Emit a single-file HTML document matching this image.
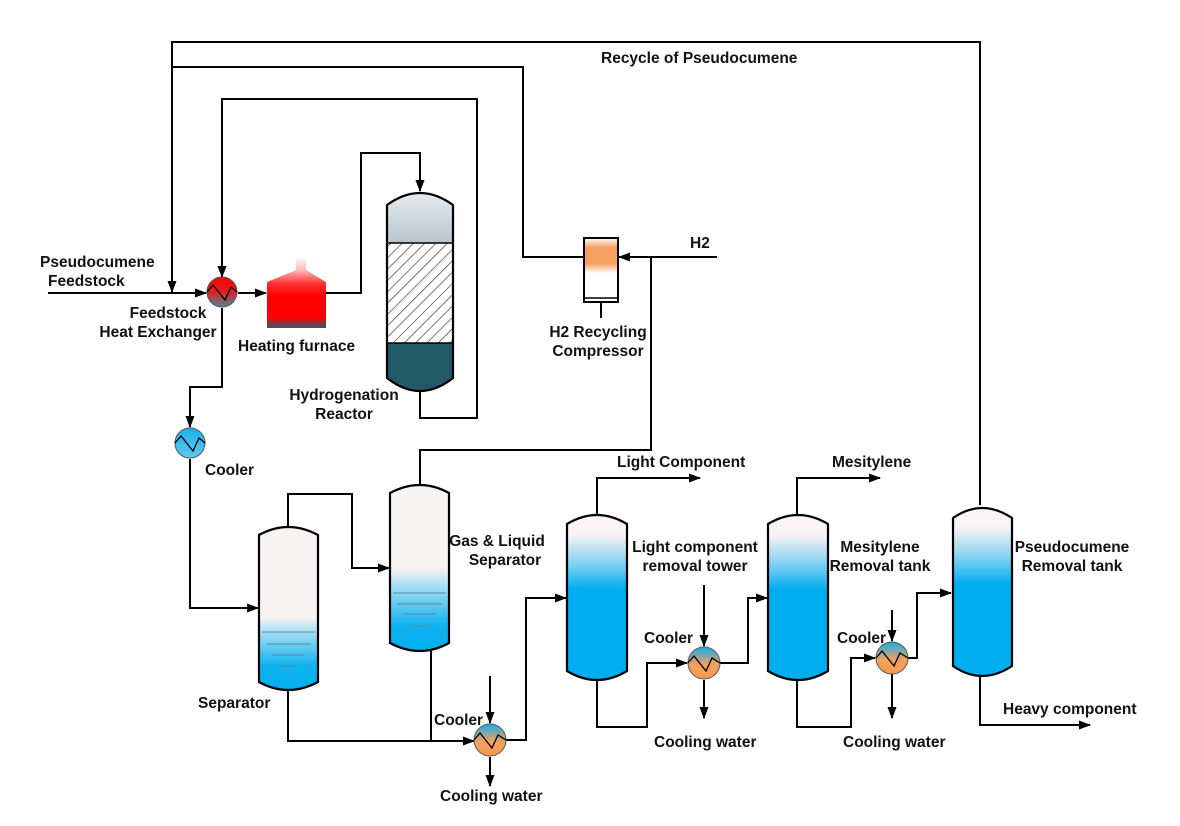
<!DOCTYPE html>
<html><head><meta charset="utf-8"><style>body{margin:0;background:#fff}svg{display:block}text{font-family:"Liberation Sans",Arial,sans-serif;font-weight:bold;font-size:15.5px;fill:#111}</style></head><body>
<svg width="1180" height="826" viewBox="0 0 1180 826" xmlns="http://www.w3.org/2000/svg">
<defs>
<marker id="a" markerWidth="12" markerHeight="12" refX="11" refY="6" orient="auto" markerUnits="userSpaceOnUse"><path d="M0,1.5 L12,6 L0,10.5 Z" fill="#000"/></marker>
<linearGradient id="tw" x1="0" y1="0" x2="0" y2="1"><stop offset="0" stop-color="#fbf5f5"/><stop offset="0.12" stop-color="#f8f3f5"/><stop offset="0.3" stop-color="#7fd0f0"/><stop offset="0.45" stop-color="#00aeef"/><stop offset="1" stop-color="#00aeef"/></linearGradient>
<linearGradient id="sep" x1="0" y1="0" x2="0" y2="1"><stop offset="0" stop-color="#f9f4f4"/><stop offset="0.55" stop-color="#f9f4f4"/><stop offset="0.65" stop-color="#a0dcf3"/><stop offset="0.85" stop-color="#10b2ee"/><stop offset="1" stop-color="#00aeef"/></linearGradient>
<linearGradient id="gls" x1="0" y1="0" x2="0" y2="1"><stop offset="0" stop-color="#f9f4f4"/><stop offset="0.5" stop-color="#f9f4f4"/><stop offset="0.62" stop-color="#a0dcf3"/><stop offset="0.85" stop-color="#10b2ee"/><stop offset="1" stop-color="#00aeef"/></linearGradient>
<linearGradient id="fur" gradientUnits="userSpaceOnUse" x1="0" y1="257" x2="0" y2="328"><stop offset="0" stop-color="#ffffff"/><stop offset="0.2" stop-color="#ffb0b0"/><stop offset="0.38" stop-color="#ff3030"/><stop offset="0.55" stop-color="#ff0000"/><stop offset="0.85" stop-color="#f00"/><stop offset="1" stop-color="#2d5a6a"/></linearGradient>
<linearGradient id="hx" x1="0" y1="0" x2="0" y2="1"><stop offset="0" stop-color="#ff0000"/><stop offset="0.5" stop-color="#e02020"/><stop offset="1" stop-color="#4a8a9a"/></linearGradient>
<linearGradient id="cb" x1="0" y1="0" x2="0" y2="1"><stop offset="0" stop-color="#1ab0ec"/><stop offset="1" stop-color="#60c8f0"/></linearGradient>
<linearGradient id="co" x1="0" y1="0" x2="0" y2="1"><stop offset="0" stop-color="#10aeef"/><stop offset="0.55" stop-color="#f4a060"/><stop offset="1" stop-color="#f49a50"/></linearGradient>
<linearGradient id="cmp" x1="0" y1="0" x2="0" y2="1"><stop offset="0" stop-color="#fff"/><stop offset="0.15" stop-color="#f5a060"/><stop offset="0.4" stop-color="#f5a060"/><stop offset="0.55" stop-color="#fff"/><stop offset="1" stop-color="#fff"/></linearGradient>
<linearGradient id="rt" x1="0" y1="0" x2="0" y2="1"><stop offset="0" stop-color="#f2f4f5"/><stop offset="1" stop-color="#b8c6cc"/></linearGradient>
<pattern id="hatch" width="8" height="8" patternUnits="userSpaceOnUse" patternTransform="rotate(45)"><rect width="8" height="8" fill="#fff"/><line x1="0" y1="0" x2="0" y2="8" stroke="#333" stroke-width="1.3"/></pattern>
<clipPath id="rc"><path d="M387,205 Q420,181 453,205 V378 Q420,404 387,378 Z"/></clipPath>
</defs>
<g fill="none" stroke="#000" stroke-width="2">
<polyline points="980,505 980,42 172,42 172,292" marker-end="url(#a)"/>
<polyline points="48,293 206,293" marker-end="url(#a)"/>
<polyline points="583,257 523,257 523,67 172,67"/>
<polyline points="420,390 420,418 477,418 477,99 222,99 222,277" marker-end="url(#a)"/>
<polyline points="238,293 266,293" marker-end="url(#a)"/>
<polyline points="326,293 361,293 361,153 420,153 420,191" marker-end="url(#a)"/>
<polyline points="222,308 222,387 190,387 190,427" marker-end="url(#a)"/>
<polyline points="190,459 190,608 258,608" marker-end="url(#a)"/>
<polyline points="717,257 619,257" marker-end="url(#a)"/>
<polyline points="420,486 420,450 651,450 651,257"/>
<polyline points="288,527 288,494 352,494 352,568 389,568" marker-end="url(#a)"/>
<polyline points="288,690 288,741 474,741" marker-end="url(#a)"/>
<polyline points="431,650 431,741"/>
<polyline points="490,676 490,723" marker-end="url(#a)"/>
<polyline points="490,757 490,786" marker-end="url(#a)"/>
<polyline points="506,740 526,740 526,598 566,598" marker-end="url(#a)"/>
<polyline points="597,515 597,478 700,478" marker-end="url(#a)"/>
<polyline points="597,680 597,727 647,727 647,663 687,663" marker-end="url(#a)"/>
<polyline points="704,585 704,646" marker-end="url(#a)"/>
<polyline points="704,680 704,718" marker-end="url(#a)"/>
<polyline points="720,663 748,663 748,598 767,598" marker-end="url(#a)"/>
<polyline points="797,515 797,478 880,478" marker-end="url(#a)"/>
<polyline points="797,680 797,727 851,727 851,658 875,658" marker-end="url(#a)"/>
<polyline points="892,610 892,641" marker-end="url(#a)"/>
<polyline points="892,674 892,718" marker-end="url(#a)"/>
<polyline points="908,658 917,658 917,593 951,593" marker-end="url(#a)"/>
<polyline points="980,675 980,725 1090,725" marker-end="url(#a)"/>
<line x1="601" y1="302" x2="601" y2="318"/>
</g>
<path d="M296,257 H306 V270 L326,282 V328 H267 V282 L296,270 Z" fill="url(#fur)"/>
<g clip-path="url(#rc)">
<rect x="387" y="180" width="66" height="63" fill="url(#rt)"/>
<rect x="387" y="243" width="66" height="100" fill="url(#hatch)"/>
<rect x="387" y="343" width="66" height="60" fill="#225a68"/>
</g>
<line x1="387" y1="243" x2="453" y2="243" stroke="#000" stroke-width="1.5"/>
<line x1="387" y1="343" x2="453" y2="343" stroke="#000" stroke-width="1.5"/>
<path d="M387,205 Q420,181 453,205 V378 Q420,404 387,378 Z" fill="none" stroke="#000" stroke-width="2.2"/>
<path d="M259,535 Q288,519 318,535 V682 Q288,698 259,682 Z" fill="url(#sep)" stroke="#000" stroke-width="2.2"/>
<g stroke="#5a8aa0" stroke-width="1"><line x1="262" y1="632" x2="315" y2="632"/><line x1="266" y1="644" x2="311" y2="644"/><line x1="272" y1="655" x2="305" y2="655"/><line x1="280" y1="666" x2="297" y2="666"/></g>
<path d="M390,493 Q420,477 449,493 V643 Q420,659 390,643 Z" fill="url(#gls)" stroke="#000" stroke-width="2.2"/>
<g stroke="#5a8aa0" stroke-width="1"><line x1="393" y1="593" x2="446" y2="593"/><line x1="397" y1="604" x2="442" y2="604"/><line x1="403" y1="614" x2="436" y2="614"/><line x1="411" y1="626" x2="428" y2="626"/></g>
<path d="M567,524 Q597,506 627,524 V671 Q597,689 567,671 Z" fill="url(#tw)" stroke="#000" stroke-width="2.2"/>
<path d="M768,524 Q798,506 828,524 V671 Q798,689 768,671 Z" fill="url(#tw)" stroke="#000" stroke-width="2.2"/>
<path d="M953,518 Q982,498 1012,518 V666 Q982,686 953,666 Z" fill="url(#tw)" stroke="#000" stroke-width="2.2"/>
<rect x="584" y="238" width="34" height="64" fill="url(#cmp)" stroke="#000" stroke-width="2"/>
<line x1="584" y1="298" x2="618" y2="298" stroke="#000" stroke-width="1.5"/>
<g stroke="#555" stroke-width="1">
<circle cx="222" cy="292" r="15" fill="url(#hx)"/>
<circle cx="190" cy="443" r="15" fill="url(#cb)"/>
<circle cx="490" cy="740" r="16" fill="url(#co)"/>
<circle cx="704" cy="663" r="16" fill="url(#co)"/>
<circle cx="892" cy="658" r="16" fill="url(#co)"/>
</g>
<g fill="none" stroke="#000" stroke-width="1.3">
<polyline points="207,292 213,285 225,300 231,287 237,292"/>
<polyline points="175,443 181,436 193,451 199,438 205,443"/>
<polyline points="474,740 480,733 492,748 498,735 506,740"/>
<polyline points="688,663 694,656 706,671 712,658 720,663"/>
<polyline points="876,658 882,651 894,666 900,653 908,658"/>
</g>
<text x="601" y="63">Recycle of Pseudocumene</text>
<text x="40" y="267">Pseudocumene</text>
<text x="48" y="286">Feedstock</text>
<text x="168" y="318" text-anchor="middle">Feedstock</text>
<text x="158" y="337" text-anchor="middle">Heat Exchanger</text>
<text x="238" y="351">Heating furnace</text>
<text x="344" y="400" text-anchor="middle">Hydrogenation</text>
<text x="344" y="419" text-anchor="middle">Reactor</text>
<text x="690" y="248">H2</text>
<text x="598" y="337" text-anchor="middle">H2 Recycling</text>
<text x="598" y="356" text-anchor="middle">Compressor</text>
<text x="205" y="475">Cooler</text>
<text x="497" y="546" text-anchor="middle">Gas &amp; Liquid</text>
<text x="505" y="565" text-anchor="middle">Separator</text>
<text x="198" y="708">Separator</text>
<text x="617" y="467">Light Component</text>
<text x="695" y="552" text-anchor="middle">Light component</text>
<text x="695" y="571" text-anchor="middle">removal tower</text>
<text x="832" y="467">Mesitylene</text>
<text x="880" y="552" text-anchor="middle">Mesitylene</text>
<text x="880" y="571" text-anchor="middle">Removal tank</text>
<text x="1072" y="552" text-anchor="middle">Pseudocumene</text>
<text x="1072" y="571" text-anchor="middle">Removal tank</text>
<text x="434" y="725">Cooler</text>
<text x="644" y="643">Cooler</text>
<text x="837" y="643">Cooler</text>
<text x="440" y="801">Cooling water</text>
<text x="654" y="747">Cooling water</text>
<text x="843" y="747">Cooling water</text>
<text x="1003" y="714">Heavy component</text>
</svg>
</body></html>
